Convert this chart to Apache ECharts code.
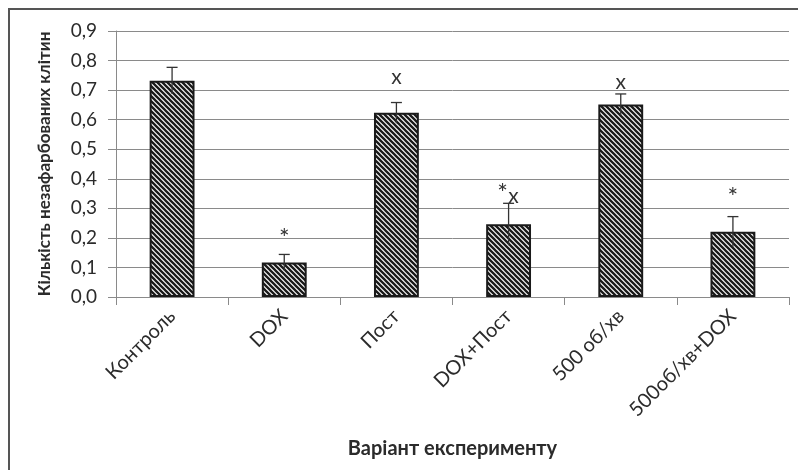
<!DOCTYPE html>
<html>
<head>
<meta charset="utf-8">
<script src="https://cdn.jsdelivr.net/npm/echarts@6/dist/echarts.min.js"></script>
<style>
  html, body { margin: 0; padding: 0; background: #fff; }
  #chart { width: 798px; height: 470px; }
</style>
</head>
<body>
<div id="chart"></div>
<script>
var categories = ['Контроль', 'DOX', 'Пост', 'DOX+Пост', '500 об/хв', '500об/хв+DOX'];
var values = [0.732, 0.117, 0.623, 0.246, 0.651, 0.221];
var errors = [0.045, 0.027, 0.035, 0.071, 0.036, 0.051];
// significance marks: value level where each mark sits
var starAt = [null, 0.196, null, 0.35, null, 0.335];
var crossAt = [null, null, 0.745, 0.34, 0.725, null];
var yTicks = ['0,0', '0,1', '0,2', '0,3', '0,4', '0,5', '0,6', '0,7', '0,8', '0,9'];

// hatch pattern for the bars
function makeHatch() {
  var c = document.createElement('canvas');
  c.width = 5; c.height = 5;
  var ctx = c.getContext('2d');
  ctx.fillStyle = '#fff';
  ctx.fillRect(0, 0, 5, 5);
  ctx.strokeStyle = '#1a1a1a';
  ctx.lineWidth = 2.3;
  [-5, 0, 5].forEach(function (o) {
    ctx.beginPath();
    ctx.moveTo(-1, o - 1);
    ctx.lineTo(6, o + 6);
    ctx.stroke();
  });
  return c;
}

var chart = echarts.init(document.getElementById('chart'));
var textFont = 'Lato';

chart.setOption({
  animation: false,
  textStyle: { fontFamily: textFont },
  graphic: [{
    type: 'rect',
    shape: { x: 9, y: 9, width: 800, height: 470 },
    style: { fill: 'none', stroke: '#555', lineWidth: 2 },
    silent: true
  }],
  grid: { left: 116, right: 9, top: 31, bottom: 173 },
  xAxis: {
    type: 'category',
    data: categories,
    boundaryGap: true,
    axisLine: { lineStyle: { color: '#8a8a8a', width: 1 } },
    axisTick: { show: true, length: 8, lineStyle: { color: '#8a8a8a' } },
    axisLabel: { rotate: 45, margin: 16, fontSize: 20, color: '#2b2b2b', fontFamily: textFont },
    name: 'Варіант експерименту',
    nameLocation: 'middle',
    nameGap: 142,
    nameTextStyle: { fontSize: 20, fontWeight: 'bold', color: '#2b2b2b', fontFamily: textFont }
  },
  yAxis: {
    type: 'value',
    min: 0,
    max: 0.9,
    interval: 0.1,
    axisLine: { show: true, lineStyle: { color: '#8a8a8a', width: 1 } },
    axisTick: { show: true, length: 8, lineStyle: { color: '#8a8a8a' } },
    splitLine: { lineStyle: { color: '#8a8a8a', width: 1 } },
    axisLabel: {
      fontSize: 19, color: '#2b2b2b', margin: 19, fontFamily: textFont,
      formatter: function (v) { return yTicks[Math.round(v * 10)]; }
    },
    name: 'Кількість незафарбованих клітин',
    nameLocation: 'middle',
    nameGap: 63,
    nameTextStyle: { fontSize: 17, fontWeight: 'bold', color: '#2b2b2b', fontFamily: textFont }
  },
  series: [{
    type: 'bar',
    data: values,
    barWidth: '40%',
    itemStyle: {
      color: { image: makeHatch(), repeat: 'repeat' },
      borderColor: '#1a1a1a',
      borderWidth: 2
    }
  }, {
    type: 'custom',
    data: values.map(function (v, i) { return [i, v, errors[i]]; }),
    z: 5,
    renderItem: function (params, api) {
      var i = api.value(0), v = api.value(1), e = api.value(2);
      var top = api.coord([i, v + e]);
      var bot = api.coord([i, v - e]);
      var children = [
        { type: 'line', shape: { x1: top[0], y1: top[1], x2: bot[0], y2: bot[1] }, style: { stroke: '#333', lineWidth: 1.3 } },
        { type: 'line', shape: { x1: top[0] - 5.5, y1: top[1], x2: top[0] + 5.5, y2: top[1] }, style: { stroke: '#333', lineWidth: 1.3 } }
      ];
      var both = starAt[i] != null && crossAt[i] != null;
      if (starAt[i] != null) {
        var ps = api.coord([i, starAt[i]]);
        children.push({ type: 'text', x: ps[0] + (both ? -6 : 0), y: ps[1],
          style: { text: '*', fontSize: 25, fill: '#333', align: 'center', verticalAlign: 'middle', fontFamily: textFont } });
      }
      if (crossAt[i] != null) {
        var pc = api.coord([i, crossAt[i]]);
        children.push({ type: 'text', x: pc[0] + (both ? 5 : 0), y: pc[1],
          style: { text: 'x', fontSize: 21, fill: '#333', align: 'center', verticalAlign: 'middle', fontFamily: textFont } });
      }
      return { type: 'group', children: children };
    }
  }]
});
</script>
</body>
</html>
